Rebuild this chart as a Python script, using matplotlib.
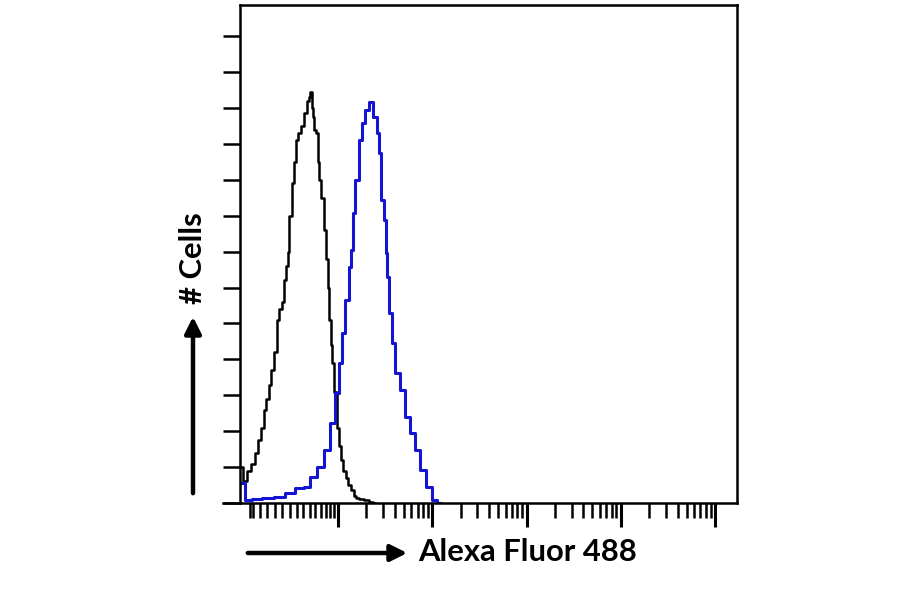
import numpy as np
import matplotlib
matplotlib.use("Agg")
import matplotlib.pyplot as plt
from matplotlib.ticker import FixedLocator, NullFormatter

# ---- data (log10 fluorescence bin, cell count) ----
control_log = [-0.04, 0.013, 0.05, 0.098, 0.135, 0.172, 0.2, 0.225, 0.25, 0.279, 0.305,
               0.332, 0.363, 0.39, 0.416, 0.44, 0.459, 0.475, 0.491, 0.523, 0.545, 0.565,
               0.59, 0.618, 0.65, 0.682, 0.70, 0.713, 0.725, 0.735, 0.757, 0.777, 0.788,
               0.81, 0.830, 0.862, 0.884, 0.90, 0.915, 0.93, 0.947, 0.97, 1.000, 1.02,
               1.042, 1.07, 1.095, 1.12, 1.149, 1.18, 1.202, 1.25, 1.308, 1.35, 1.393]
control_counts = [10, 6, 9, 11, 14, 17.5, 21, 26, 29, 33, 37,
                  42, 51, 54, 56, 62, 66, 70, 80, 89, 95, 101,
                  103, 105, 108.6, 112, 113, 114.5, 110, 107.5, 104, 103, 95,
                  90, 85, 76, 68, 60, 51, 44, 39, 31, 21, 16,
                  12, 9, 7, 5, 3.5, 2, 1.4, 1, 0.8, 0.3, 0]

stained_log = [-0.019, 0.034, 0.14, 0.247, 0.385, 0.491, 0.597, 0.671, 0.735, 0.809,
               0.883, 0.947, 0.989, 1.021, 1.053, 1.095, 1.127, 1.149, 1.159, 1.202,
               1.233, 1.265, 1.308, 1.350, 1.393, 1.424, 1.446, 1.467, 1.499, 1.509,
               1.530, 1.552, 1.584, 1.626, 1.679, 1.732, 1.785, 1.838, 1.902, 1.955,
               2.029, 2.08]
stained_counts = [5.6, 0.8, 1.0, 1.4, 1.7, 2.8, 4.2, 4.5, 7.2, 10.0,
                  14.8, 22.3, 30.6, 39.0, 47.4, 56.5, 65.7, 70.5, 80.8, 90.0,
                  101.1, 105.8, 109.5, 111.7, 107.5, 103.1, 97.5, 84.4, 78.8, 69.6,
                  63.0, 52.9, 44.6, 36.2, 31.5, 24.0, 19.5, 14.8, 9.2, 4.5,
                  0.8, 0]

# axis settings
x_log_range = (-0.04, 5.233)
y_max = 138.7
y_tick_step = 10
first_decade_minor_log = [0.07, 0.10, 0.17, 0.25, 0.33, 0.41, 0.49, 0.56, 0.63,
                          0.70, 0.76, 0.82, 0.87, 0.92, 0.96]
x_label = "Alexa Fluor 488"
y_label = "# Cells"

# ---- figure ----
W, H = 900, 594
fig = plt.figure(figsize=(W / 100, H / 100), dpi=100)
ax = fig.add_axes([240 / W, 1 - 503 / H, (737 - 240) / W, (503 - 5) / H])

ax.plot(10 ** np.array(control_log), control_counts, drawstyle="steps-mid",
        color="black", lw=1.8)
ax.plot(10 ** np.array(stained_log), stained_counts, drawstyle="steps-mid",
        color="#1414d2", lw=2.2)

ax.set_xscale("log")
ax.set_xlim(10 ** x_log_range[0], 10 ** x_log_range[1])
ax.set_ylim(0, y_max)

# x ticks
majors = [10.0 ** k for k in range(1, 6)]
minors = [10 ** v for v in first_decade_minor_log]
for k in range(1, 5):
    minors += [m * 10.0 ** k for m in range(2, 10)]
ax.xaxis.set_major_locator(FixedLocator(majors))
ax.xaxis.set_minor_locator(FixedLocator(minors))
ax.xaxis.set_major_formatter(NullFormatter())
ax.xaxis.set_minor_formatter(NullFormatter())
ax.tick_params(axis="x", which="major", length=17, width=2.2, direction="out")
ax.tick_params(axis="x", which="minor", length=11, width=1.8, direction="out")

# y ticks
ax.yaxis.set_major_locator(FixedLocator(np.arange(0, y_max, y_tick_step)))
ax.yaxis.set_major_formatter(NullFormatter())
ax.yaxis.set_minor_locator(FixedLocator([]))
ax.tick_params(axis="y", which="major", length=12, width=1.8, direction="out")

for s in ax.spines.values():
    s.set_linewidth(1.8)

# bottom spine extension to the left
ax.plot([-0.035, 0], [0, 0], transform=ax.transAxes, color="black", lw=1.8,
        clip_on=False)

# axis label arrows and text
fig.patches.append(matplotlib.patches.FancyArrowPatch(
    (245 / W, 1 - 553 / H), (410 / W, 1 - 553 / H), transform=fig.transFigure,
    arrowstyle="-|>,head_length=0.9,head_width=0.45", mutation_scale=11,
    color="black", lw=3.2))
fig.text(418 / W, 1 - 552 / H, x_label, ha="left", va="center",
         fontsize=22.3, fontweight="bold", family="Lato")

fig.patches.append(matplotlib.patches.FancyArrowPatch(
    (193 / W, 1 - 496 / H), (193 / W, 1 - 314 / H), transform=fig.transFigure,
    arrowstyle="-|>,head_length=0.9,head_width=0.45", mutation_scale=11,
    color="black", lw=3.2))
fig.text(193 / W, 1 - 258 / H, y_label, ha="center", va="center", rotation=90,
         fontsize=22.3, fontweight="bold", family="Lato")

fig.savefig("out.png", dpi=100)
